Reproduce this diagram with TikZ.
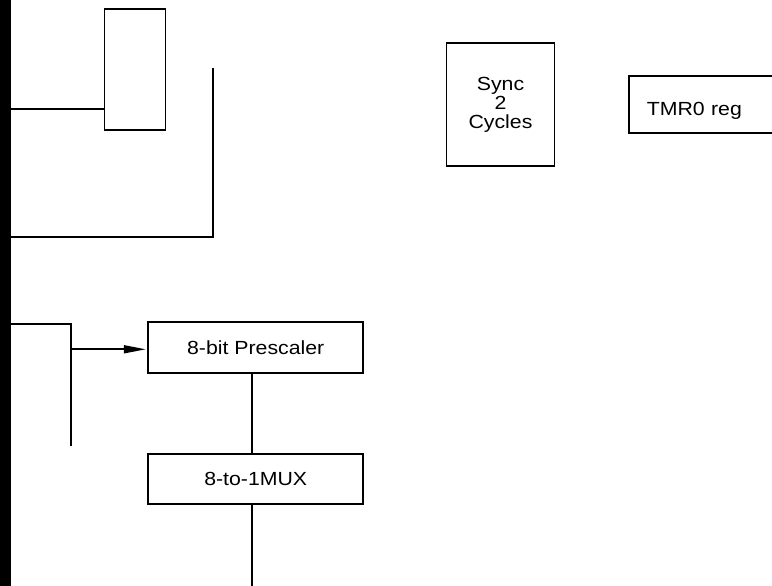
\documentclass[tikz,border=0pt]{standalone}
\usepackage{fontspec}
\setmainfont{Liberation Sans}[FakeStretch=1.12]
\usetikzlibrary{arrows.meta, positioning}

\begin{document}
\begin{tikzpicture}[x=1pt, y=-1pt,
  blk/.style={draw, line width=1.8pt, inner sep=0pt, font=\fontsize{19}{19}\selectfont},
  sig/.style={line width=1.8pt},
  arr/.style={-{Triangle[length=22pt, width=8pt]}, line width=1.8pt}]

\useasboundingbox (0,0) rectangle (772,586);
\clip (0,0) rectangle (772,586);

% input bus at the left edge
\fill[black] (0,0) rectangle (11,586);

% top left block
\node[blk, minimum width=61, minimum height=121] (inbox) at (135,69.5) {};
\coordinate (in1) at (11,108.7);
\draw[sig] (in1) -- (in1 -| inbox.west);

% return line
\coordinate (ret top) at (213,68);
\coordinate (ret end) at (11,237);
\draw[sig] (ret top) |- (ret end);

% sync block
\node[blk, minimum width=108, minimum height=123, align=center] (sync) at (500.5,104.4) {Sync\\2\\Cycles};

% TMR0 register (runs off the right edge)
\node[blk, anchor=west, minimum height=57, text width=150, inner xsep=18,
  text height=23.6, text depth=0, align=left] (tmr) at (628,104.2) {TMR0 reg};

% prescaler path
\coordinate (pre top) at (11,324);
\coordinate (pre foot) at (71,446);
\coordinate (pre tap) at (71,349.3);
\draw[sig] (pre top) -| (pre foot);
\node[blk, minimum width=215, minimum height=51] (presc) at (255.7,347.7) {8-bit Prescaler};
\draw[arr] (pre tap) -- ([xshift=-1.5]presc.west |- pre tap);

% mux
\node[blk, minimum width=215, minimum height=50] (mux) at (255.7,479) {8-to-1MUX};
\coordinate (mux out) at (252,586);
\draw[sig] (presc.south -| mux out) -- (mux.north -| mux out);
\draw[sig] (mux.south -| mux out) -- (mux out);

\end{tikzpicture}
\end{document}
